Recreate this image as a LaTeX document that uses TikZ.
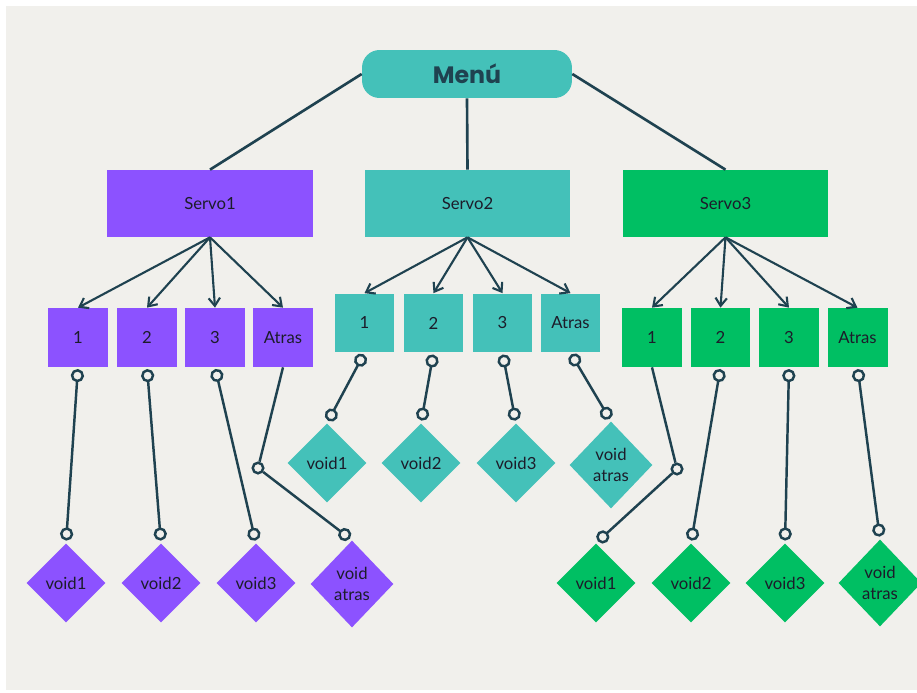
\documentclass[tikz,border=0pt]{standalone}
\usepackage{fontspec}
\setmainfont{Lato}
\newfontfamily\menufont{Poppins}
\usetikzlibrary{arrows.meta,shapes.geometric,positioning}
\definecolor{bgcream}{HTML}{F1F0EC}
\definecolor{purplebox}{HTML}{8C52FF}
\definecolor{tealbox}{HTML}{44C1B9}
\definecolor{greenbox}{HTML}{00BF63}
\definecolor{linkcol}{HTML}{1F4250}
\definecolor{inkcol}{HTML}{1C1C2A}
\tikzset{
  menu/.style={rectangle, rounded corners=10pt, fill=tealbox, minimum width=4.2cm, minimum height=0.96cm, inner sep=0pt, text=linkcol, font=\menufont\bfseries\fontsize{13.5}{15}\selectfont},
  servo/.style={rectangle, minimum width=4.12cm, minimum height=1.34cm, inner sep=0pt, text=inkcol, font=\fontsize{9.5}{11}\selectfont},
  option/.style={rectangle, minimum width=1.2cm, minimum height=1.18cm, inner sep=0pt, text=inkcol, font=\fontsize{9.5}{11}\selectfont},
  func/.style={diamond, minimum width=1.58cm, minimum height=1.58cm, inner sep=0pt, align=center, text=inkcol, font=\fontsize{9.5}{12}\selectfont},
  back func/.style={func, minimum width=1.66cm, minimum height=1.74cm},
  branch/.style={draw=linkcol, line width=1.5pt},
  pick/.style={-{Straight Barb[length=4.5pt, width=6.5pt]}, draw=linkcol, line width=1.2pt},
  link/.style={{Circle[length=7.5pt, fill=bgcream]}-{Circle[length=7.5pt, fill=bgcream]}, draw=linkcol, line width=1.4pt, shorten <=1pt, shorten >=1.5pt},
  bent link/.style={-{Circle[length=7.5pt, fill=bgcream]}, draw=linkcol, line width=1.4pt, shorten >=1.5pt},
  joint/.style={circle, draw=linkcol, line width=1.4pt, fill=bgcream, minimum size=6pt, inner sep=0pt},
}
\begin{document}
\begin{tikzpicture}[x=0.02cm, y=-0.02cm]
  % Background
  \useasboundingbox (0,0) rectangle (917,693);
  \fill[bgcream] (6,6) rectangle (917,690);

  % Menu and servos
  \node[menu] (menu) at (467,74) {Menú};
  \node[servo, fill=purplebox] (servo1) at (210,203.5) {Servo1};
  \node[servo, fill=tealbox] (servo2) at (467.5,203.5) {Servo2};
  \node[servo, fill=greenbox] (servo3) at (725.5,203.5) {Servo3};

  % Servo1 options
  \node[option, fill=purplebox] (s1-o1) at (78,337.5) {1};
  \node[option, fill=purplebox] (s1-o2) at (147,337.5) {2};
  \node[option, fill=purplebox] (s1-o3) at (215,337.5) {3};
  \node[option, fill=purplebox] (s1-oa) at (283,337.5) {Atras};

  % Servo2 options
  \node[option, fill=tealbox] (s2-o1) at (364.5,323) {1};
  \node[option, fill=tealbox] (s2-o2) at (433.5,323) {2};
  \node[option, fill=tealbox] (s2-o3) at (502.5,323) {3};
  \node[option, fill=tealbox] (s2-oa) at (570.5,323) {Atras};

  % Servo3 options
  \node[option, fill=greenbox] (s3-o1) at (652,337.5) {1};
  \node[option, fill=greenbox] (s3-o2) at (720.5,337.5) {2};
  \node[option, fill=greenbox] (s3-o3) at (789,337.5) {3};
  \node[option, fill=greenbox] (s3-oa) at (857.5,337.5) {Atras};

  % Functions
  \node[func, fill=purplebox] (s1-v1) at (66,583) {void1};
  \node[func, fill=purplebox] (s1-v2) at (161,583) {void2};
  \node[func, fill=purplebox] (s1-v3) at (256,583) {void3};
  \node[back func, fill=purplebox] (s1-va) at (352,584) {void\\atras};
  \node[func, fill=tealbox] (s2-v1) at (327,463) {void1};
  \node[func, fill=tealbox] (s2-v2) at (421,463) {void2};
  \node[func, fill=tealbox] (s2-v3) at (516,463) {void3};
  \node[back func, fill=tealbox] (s2-va) at (611,465) {void\\atras};
  \node[func, fill=greenbox] (s3-v1) at (596,583) {void1};
  \node[func, fill=greenbox] (s3-v2) at (691,583) {void2};
  \node[func, fill=greenbox] (s3-v3) at (785,583) {void3};
  \node[back func, fill=greenbox] (s3-va) at (880,583) {void\\atras};

  % Menu branches
  \draw[branch] (menu.west) -- (servo1.north);
  \draw[branch] (menu.south) -- (servo2.north);
  \draw[branch] (menu.east) -- (servo3.north);

  % Servo to options
  \foreach \s in {1,2,3}
    \foreach \k in {o1,o2,o3,oa}
      \draw[pick] (servo\s.south) -- (s\s-\k.north);

  % Options to functions
  \draw[link] (s1-o1.south) -- (s1-v1.north);
  \draw[link] (s1-o2.south) -- (s1-v2.north);
  \draw[link] (s1-o3.south) -- (s1-v3.north);
  \node[joint] (j1) at (258,468) {};
  \draw[bent link] (s1-oa.south) -- (j1) -- (s1-va.north);
  \draw[link] (s2-o1.south) -- (s2-v1.north);
  \draw[link] (s2-o2.south) -- (s2-v2.north);
  \draw[link] (s2-o3.south) -- (s2-v3.north);
  \draw[link] (s2-oa.south) -- (s2-va.north);
  \node[joint] (j2) at (677,469) {};
  \draw[bent link] (s3-o1.south) -- (j2) -- (s3-v1.north);
  \draw[link] (s3-o2.south) -- (s3-v2.north);
  \draw[link] (s3-o3.south) -- (s3-v3.north);
  \draw[link] (s3-oa.south) -- (s3-va.north);
\end{tikzpicture}
\end{document}
